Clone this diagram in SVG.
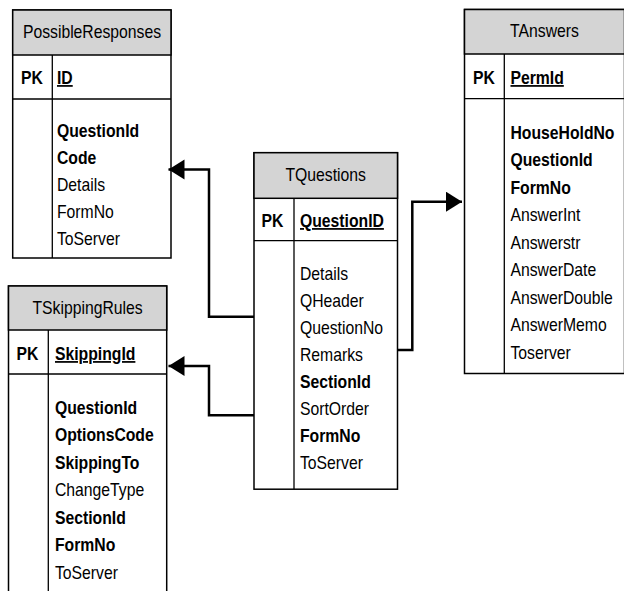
<svg xmlns="http://www.w3.org/2000/svg" width="624" height="591" viewBox="0 0 624 591">
<style>
  text { font-family: "Liberation Sans", Arial, sans-serif; font-size: 17.5px; fill: #000; transform-box: fill-box; transform-origin: 0 0; transform: scaleX(0.9); }
  .t { text-anchor: middle; transform-origin: 50% 0; }
  .b { font-weight: bold; }
  .u { font-weight: bold; text-decoration: underline; }
  .box { fill: #fff; stroke: #000; stroke-width: 1.5; }
  .hdr { fill: #d4d4d4; stroke: #000; stroke-width: 1.5; }
  .ln { stroke: #000; stroke-width: 1.3; fill: none; }
  .con { stroke: #000; stroke-width: 2.5; fill: none; }
</style>
<defs>
  <marker id="ah" markerUnits="userSpaceOnUse" markerWidth="18" markerHeight="22" refX="16" refY="10" orient="auto">
    <path d="M0,0 L16,10 L0,20 Z" fill="#000"/>
  </marker>
</defs>

<g id="PossibleResponses">
  <rect class="box" x="12.7" y="10" width="158.3" height="248"/>
  <rect class="hdr" x="12.7" y="10" width="158.3" height="45"/>
  <line class="ln" x1="12.7" y1="99" x2="171" y2="99"/>
  <line class="ln" x1="52.3" y1="55" x2="52.3" y2="258"/>
  <text class="t" x="92" y="38">PossibleResponses</text>
  <text class="b" x="21" y="84">PK</text>
  <text class="u" x="57" y="84">ID</text>
  <text class="b" x="57" y="137">QuestionId</text>
  <text class="b" x="57" y="164">Code</text>
  <text x="57" y="191">Details</text>
  <text x="57" y="218">FormNo</text>
  <text x="57" y="245">ToServer</text>
</g>

<g id="TSkippingRules">
  <rect class="box" x="8.5" y="286" width="158.2" height="320"/>
  <rect class="hdr" x="8.5" y="286" width="158.2" height="44"/>
  <line class="ln" x1="8.5" y1="374" x2="166.7" y2="374"/>
  <line class="ln" x1="48.3" y1="330" x2="48.3" y2="600"/>
  <text class="t" x="87.6" y="314">TSkippingRules</text>
  <text class="b" x="16.5" y="360">PK</text>
  <text class="u" x="55" y="360">SkippingId</text>
  <text class="b" x="55" y="414">QuestionId</text>
  <text class="b" x="55" y="441.5">OptionsCode</text>
  <text class="b" x="55" y="469">SkippingTo</text>
  <text x="55" y="496.5">ChangeType</text>
  <text class="b" x="55" y="524">SectionId</text>
  <text class="b" x="55" y="551.5">FormNo</text>
  <text x="55" y="579">ToServer</text>
</g>

<g id="TQuestions">
  <rect class="box" x="254" y="152.7" width="143.5" height="336.5"/>
  <rect class="hdr" x="254" y="152.7" width="143.5" height="45.6"/>
  <line class="ln" x1="254" y1="240.7" x2="397.5" y2="240.7"/>
  <line class="ln" x1="294" y1="198.3" x2="294" y2="489.2"/>
  <text class="t" x="325.7" y="181">TQuestions</text>
  <text class="b" x="261.5" y="227">PK</text>
  <text class="u" x="300" y="227">QuestionID</text>
  <text x="300" y="280">Details</text>
  <text x="300" y="307">QHeader</text>
  <text x="300" y="334">QuestionNo</text>
  <text x="300" y="361">Remarks</text>
  <text class="b" x="300" y="388">SectionId</text>
  <text x="300" y="415">SortOrder</text>
  <text class="b" x="300" y="442">FormNo</text>
  <text x="300" y="469">ToServer</text>
</g>

<g id="TAnswers">
  <rect class="box" x="464.5" y="9.5" width="160" height="364"/>
  <rect class="hdr" x="464.5" y="9.5" width="160" height="44.5"/>
  <line class="ln" x1="464.5" y1="98.7" x2="626" y2="98.7"/>
  <line class="ln" x1="504.3" y1="54" x2="504.3" y2="373.5"/>
  <text class="t" x="544.5" y="37">TAnswers</text>
  <text class="b" x="473" y="84">PK</text>
  <text class="u" x="510.5" y="84">PermId</text>
  <text class="b" x="510.5" y="139">HouseHoldNo</text>
  <text class="b" x="510.5" y="166.5">QuestionId</text>
  <text class="b" x="510.5" y="194">FormNo</text>
  <text x="510.5" y="221.5">AnswerInt</text>
  <text x="510.5" y="249">Answerstr</text>
  <text x="510.5" y="276.5">AnswerDate</text>
  <text x="510.5" y="304">AnswerDouble</text>
  <text x="510.5" y="331.5">AnswerMemo</text>
  <text x="510.5" y="359">Toserver</text>
</g>

<g id="connectors">
  <path class="con" d="M254,316.7 H209 V169.5 H168.5" marker-end="url(#ah)"/>
  <path class="con" d="M254,415.3 H209 V366 H168.5" marker-end="url(#ah)"/>
  <path class="con" d="M397.5,350 H412.3 V201.7 H462" marker-end="url(#ah)"/>
</g>
</svg>
